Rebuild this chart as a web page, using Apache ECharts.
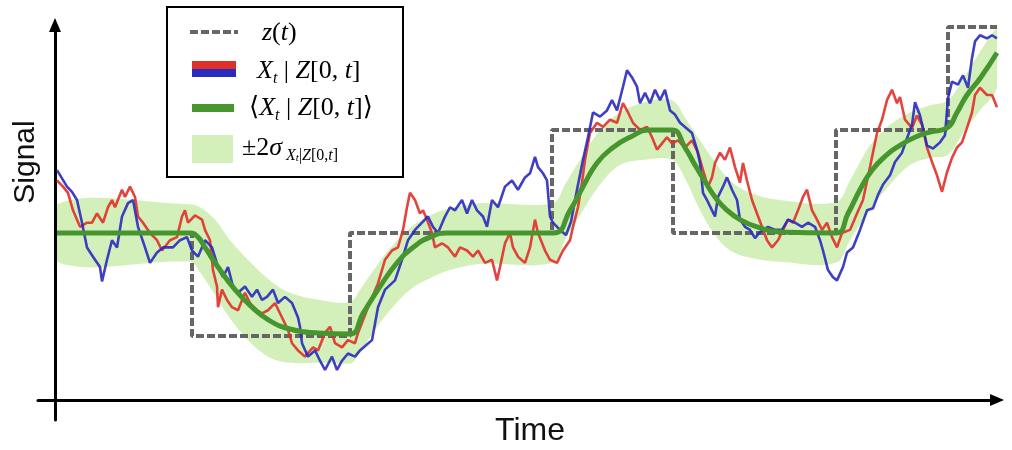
<!DOCTYPE html>
<html>
<head>
<meta charset="utf-8">
<script src="https://cdn.jsdelivr.net/npm/echarts@6/dist/echarts.min.js"></script>
<style>
  html, body { margin: 0; padding: 0; background: #fff; }
  #chart { width: 1012px; height: 450px; }
</style>
</head>
<body>
<div id="chart"></div>
<script>
// Piecewise-constant input z(t): each level is held until the next switch time
const zTimes  = [0, 135, 293, 495, 616, 779, 891, 940];
const zLevels = [0, -1, 0, 1, 0, 1, 2, 2];

// Sample path 1 of X_t | Z[0,t]
const redTimes = [0,6,11,16,23,30,35,40,46,51,55,58,65,68,73,78,81,86,93,100,105,113,120,125,128,131,138,145,148,153,156,160,161,165,170,175,181,188,193,200,205,211,218,225,231,235,241,248,256,261,268,273,278,285,291,298,301,311,321,328,335,341,346,350,353,358,363,366,370,375,378,385,391,398,403,410,416,421,428,435,440,443,448,453,456,461,468,473,478,481,488,493,500,506,513,516,521,525,528,533,540,546,553,560,566,571,576,583,590,595,600,605,610,615,621,628,635,641,646,651,655,658,663,668,673,678,683,686,690,695,700,705,710,715,721,726,731,736,741,746,750,755,760,765,770,775,780,785,793,800,806,813,820,825,830,835,840,843,848,855,860,865,870,875,880,885,890,895,900,905,910,915,918,923,930,935,940];
const redValues = [0.51,0.45,0.39,0.22,0.06,0.10,0.10,0.19,0.10,0.25,0.32,0.25,0.42,0.35,0.45,0.35,0.16,0.10,0.00,-0.07,-0.17,-0.07,-0.04,0.16,0.22,0.10,0.17,0.13,0.03,-0.07,-0.36,-0.52,-0.72,-0.55,-0.65,-0.72,-0.75,-0.58,-0.68,-0.75,-0.78,-0.75,-0.68,-0.82,-0.94,-1.07,-1.14,-1.20,-1.11,-1.14,-0.97,-0.91,-1.07,-1.11,-1.04,-1.07,-0.97,-0.72,-0.49,-0.26,-0.17,-0.14,0.03,0.25,0.39,0.32,0.19,0.22,0.13,0.00,-0.14,-0.10,-0.14,-0.23,-0.14,-0.17,-0.23,-0.17,-0.29,-0.26,-0.46,-0.33,-0.10,0.00,-0.14,-0.23,-0.29,-0.14,0.13,0.00,-0.17,-0.26,-0.29,-0.17,-0.07,0.06,0.25,0.49,0.71,0.97,1.07,1.03,1.10,1.07,1.26,1.17,1.07,1.00,1.03,0.93,0.81,0.87,0.93,0.87,0.90,0.83,0.90,0.78,0.61,0.45,0.54,0.68,0.78,0.71,0.83,0.64,0.49,0.68,0.51,0.32,0.19,0.06,-0.07,-0.14,-0.07,0.03,0.13,0.10,0.22,0.35,0.42,0.22,0.13,0.03,0.10,-0.04,-0.14,0.00,0.03,0.19,0.32,0.64,0.97,1.10,1.29,1.39,1.26,1.32,1.10,1.02,1.14,1.05,0.83,0.69,0.56,0.40,0.59,0.73,0.83,0.88,1.02,1.17,1.34,1.41,1.34,1.34,1.22];

// Sample path 2 of X_t | Z[0,t]
const blueTimes = [0,5,10,15,20,25,30,36,43,45,50,55,60,65,71,76,81,88,93,100,106,116,123,130,135,141,148,155,161,166,171,176,181,188,195,200,205,210,216,221,228,235,241,243,245,251,258,263,268,275,280,285,291,298,303,309,315,321,328,338,345,351,358,365,371,376,381,388,393,398,405,410,415,420,426,430,435,441,448,455,461,468,473,478,481,486,490,493,496,503,509,514,520,526,531,536,543,550,555,560,566,570,575,580,583,588,593,598,603,608,613,618,623,628,635,640,643,646,650,655,658,661,666,670,675,680,683,688,693,698,703,711,718,725,731,738,745,751,758,763,766,771,776,780,786,790,796,803,810,816,821,826,833,838,845,850,855,858,863,866,870,876,883,888,891,895,901,906,911,915,918,923,930,935,940];
const blueValues = [0.61,0.53,0.45,0.40,0.32,0.10,-0.14,-0.23,-0.33,-0.47,-0.26,-0.07,-0.14,0.16,0.29,0.32,0.06,-0.14,-0.29,-0.19,-0.14,-0.14,-0.07,-0.04,-0.17,-0.23,-0.07,-0.14,-0.33,-0.43,-0.33,-0.52,-0.58,-0.52,-0.62,-0.55,-0.65,-0.62,-0.55,-0.68,-0.62,-0.68,-0.82,-0.91,-1.07,-1.20,-1.14,-1.24,-1.33,-1.20,-1.33,-1.24,-1.17,-1.20,-1.14,-1.09,-1.04,-0.72,-0.55,-0.46,-0.26,-0.07,0.03,0.10,0.16,0.06,0.00,0.16,0.25,0.22,0.32,0.19,0.32,0.22,0.16,0.06,0.32,0.25,0.45,0.51,0.42,0.54,0.58,0.74,0.64,0.58,0.51,0.16,0.10,0.03,-0.02,0.11,0.42,0.71,0.93,1.17,1.13,1.19,1.29,1.19,1.42,1.58,1.51,1.42,1.26,1.36,1.26,1.39,1.29,1.39,1.19,1.15,1.07,1.03,0.97,0.81,0.68,0.39,0.32,0.22,0.16,0.35,0.45,0.54,0.42,0.32,0.13,0.06,0.03,-0.05,0.01,0.06,0.03,0.03,0.13,0.10,0.06,0.10,0.06,-0.07,-0.17,-0.36,-0.43,-0.46,-0.33,-0.19,-0.14,0.03,0.22,0.24,0.37,0.47,0.56,0.69,0.78,0.92,1.05,1.27,1.14,1.02,0.85,0.82,0.88,0.95,1.31,1.47,1.44,1.53,1.41,1.70,1.86,1.92,1.89,1.92,1.89];

// Posterior mean <X_t | Z[0,t]>
const meanTimes  = [0,133,141,148,161,178,195,211,228,261,293,306,323,340,356,373,390,496,513,526,540,556,573,593,615,628,638,648,658,668,683,703,723,779,791,803,815,830,843,858,873,890,900,910,923,940];
const meanValues = [0,0,-0.04,-0.14,-0.33,-0.55,-0.72,-0.84,-0.92,-0.97,-0.98,-0.78,-0.52,-0.29,-0.14,-0.04,0,0,0.22,0.45,0.68,0.83,0.93,1.0,1.0,0.83,0.66,0.50,0.35,0.24,0.13,0.05,0.01,0,0.19,0.42,0.61,0.76,0.85,0.93,0.98,1.02,1.17,1.34,1.50,1.75];

// ±2σ envelope around the posterior mean
const bandTimes = [0,133,143,158,173,193,213,233,263,293,303,318,333,353,373,393,423,496,508,523,543,563,588,615,628,643,658,673,693,723,779,793,813,833,853,873,891,908,923,940];
const bandUpper = [0.28,0.28,0.25,0.13,-0.07,-0.28,-0.46,-0.58,-0.65,-0.67,-0.55,-0.34,-0.15,0.05,0.17,0.24,0.29,0.29,0.47,0.71,1.00,1.17,1.27,1.29,1.12,0.90,0.69,0.51,0.39,0.32,0.30,0.51,0.85,1.05,1.17,1.24,1.29,1.53,1.76,1.99];
const bandLower = [-0.28,-0.28,-0.38,-0.60,-0.83,-1.06,-1.21,-1.26,-1.26,-1.27,-1.16,-0.94,-0.75,-0.55,-0.44,-0.36,-0.30,-0.29,-0.07,0.17,0.47,0.66,0.71,0.71,0.53,0.22,-0.02,-0.17,-0.24,-0.28,-0.29,-0.07,0.22,0.47,0.66,0.73,0.76,1.00,1.19,1.41];

const RED = '#e0302a';
const BLUE = '#2a2abf';
const GREEN = '#46952f';
const GRAY = '#666666';
const BAND = '#d4f0ba';
const INK = '#111111';

const pairs = (xs, ys) => xs.map((x, i) => [x, ys[i]]);

const serif = "'Liberation Serif', 'DejaVu Serif', serif";
const sans = "'Liberation Sans', Arial, sans-serif";

// rich-text styles for the math-like legend labels
const mathRich = {
  r:  { fontFamily: serif, fontSize: 26, lineHeight: 32, verticalAlign: 'middle', color: INK },
  i:  { fontFamily: serif, fontStyle: 'italic', fontSize: 26, lineHeight: 32, verticalAlign: 'middle', color: INK },
  s:  { fontFamily: serif, fontStyle: 'italic', fontSize: 16, lineHeight: 16, verticalAlign: 'bottom', color: INK },
  si: { fontFamily: serif, fontStyle: 'italic', fontSize: 16, lineHeight: 9, verticalAlign: 'bottom', color: INK },
  sr: { fontFamily: serif, fontSize: 16, lineHeight: 9, verticalAlign: 'bottom', color: INK },
  ss: { fontFamily: serif, fontStyle: 'italic', fontSize: 11, lineHeight: 4, verticalAlign: 'bottom', color: INK }
};

const legendText = (x, y, text) => ({
  type: 'text', x: x, y: y, z: 102,
  style: { text: text, rich: mathRich, align: 'left', verticalAlign: 'middle' }
});

// the envelope is one closed polygon: upper edge forward, lower edge backward;
// the smoothing is kept inside the polygon's bounding box
function renderBand(params, api) {
  const upper = bandTimes.map((t, i) => api.coord([t, bandUpper[i]]));
  const lower = bandTimes.map((t, i) => api.coord([t, bandLower[i]])).reverse();
  const pts = upper.concat(lower);
  const xs = pts.map(p => p[0]);
  const ys = pts.map(p => p[1]);
  const box = [[Math.min(...xs), Math.min(...ys)], [Math.max(...xs), Math.max(...ys)]];
  return {
    type: 'polygon',
    shape: { points: pts, smooth: 0.35, smoothConstraint: box },
    style: { fill: BAND },
    silent: true
  };
}

const chart = echarts.init(document.getElementById('chart'));

chart.setOption({
  animation: false,
  backgroundColor: '#ffffff',
  grid: { left: 38, right: 15, top: 25, bottom: 30, outerBoundsMode: 'none', containLabel: false },
  xAxis: {
    type: 'value', min: -19, max: 940, offset: -20,
    axisLine: { onZero: false, symbol: ['none', 'triangle'], symbolSize: [12, 14],
                lineStyle: { color: '#000', width: 3 } },
    axisTick: { show: false }, axisLabel: { show: false }, splitLine: { show: false }
  },
  yAxis: {
    type: 'value', min: -1.8155, max: 2.0194, offset: -17,
    axisLine: { onZero: false, symbol: ['none', 'triangle'], symbolSize: [12, 14],
                lineStyle: { color: '#000', width: 3 } },
    axisTick: { show: false }, axisLabel: { show: false }, splitLine: { show: false }
  },
  series: [
    {
      name: '±2σ', type: 'custom', coordinateSystem: 'cartesian2d',
      renderItem: renderBand, data: [[bandTimes[0], bandUpper[0]]], z: 1, silent: true
    },
    {
      name: 'z(t)', type: 'line', step: 'end', data: pairs(zTimes, zLevels), symbol: 'none',
      lineStyle: { color: GRAY, width: 4, type: [8, 3] }, z: 2
    },
    {
      name: 'path-red', type: 'line', data: pairs(redTimes, redValues), symbol: 'none',
      lineStyle: { color: RED, width: 2.6, opacity: 0.9 }, z: 3
    },
    {
      name: 'path-blue', type: 'line', data: pairs(blueTimes, blueValues), symbol: 'none',
      lineStyle: { color: BLUE, width: 2.6, opacity: 0.9 }, z: 4
    },
    {
      name: 'mean', type: 'line', data: pairs(meanTimes, meanValues), smooth: 0.5,
      symbol: 'none', lineStyle: { color: GREEN, width: 5 }, z: 5
    }
  ],
  graphic: {
    elements: [
      // axis titles
      { type: 'text', x: 26, y: 162, rotation: Math.PI / 2, z: 100,
        style: { text: 'Signal', font: '30px ' + sans, fill: INK, align: 'center', verticalAlign: 'middle' } },
      { type: 'text', x: 530, y: 431, z: 100,
        style: { text: 'Time', font: '32px ' + sans, fill: INK, align: 'center', verticalAlign: 'middle' } },

      // legend frame
      { type: 'rect', z: 100, shape: { x: 167, y: 7, width: 236, height: 170 },
        style: { fill: '#fff', stroke: '#000', lineWidth: 2 } },

      // legend keys
      { type: 'line', z: 101, shape: { x1: 190, y1: 32, x2: 238, y2: 32 },
        style: { stroke: GRAY, lineWidth: 4, lineDash: [8, 3] } },
      { type: 'rect', z: 101, shape: { x: 192, y: 61, width: 44, height: 8 }, style: { fill: RED } },
      { type: 'rect', z: 101, shape: { x: 192, y: 69, width: 44, height: 8 }, style: { fill: BLUE } },
      { type: 'rect', z: 101, shape: { x: 192, y: 104, width: 42, height: 8 }, style: { fill: GREEN } },
      { type: 'rect', z: 101, shape: { x: 192, y: 135, width: 41, height: 28 }, style: { fill: BAND } },

      // legend labels
      legendText(262, 33, '{i|z}{r|(}{i|t}{r|)}'),
      legendText(257, 71, '{i|X}{s|t}{r| | }{i|Z}{r|[0, }{i|t}{r|]}'),
      legendText(249, 108, '{r|\u27e8}{i|X}{s|t}{r| | }{i|Z}{r|[0, }{i|t}{r|]\u27e9}'),
      legendText(242, 148, '{r|\u00b12}{i|\u03c3}{si| X}{ss|t}{sr||}{si|Z}{sr|[0,}{si|t}{sr|]}')
    ]
  }
});
</script>
</body>
</html>
